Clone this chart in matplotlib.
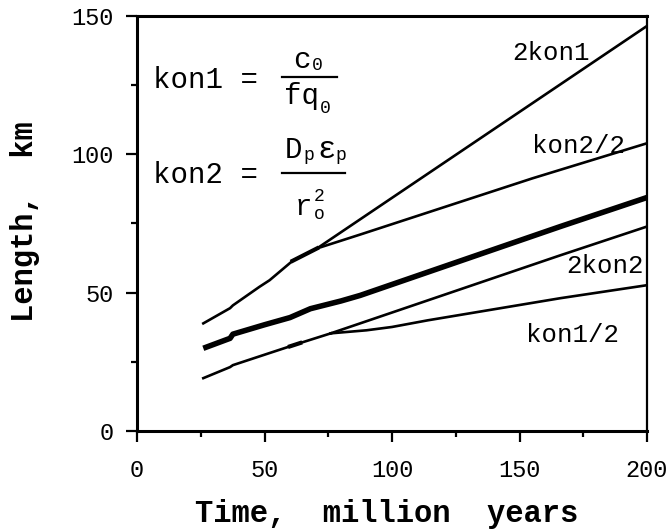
import numpy as np
import matplotlib
matplotlib.use("Agg")
from matplotlib import pyplot as plt
from matplotlib.lines import Line2D

# curve data (time in Myr, length in km)
base_t = [26, 36.5, 37.6, 50, 60, 68, 80, 87.5, 166, 200]
base_len = [29.9, 33.5, 35.0, 38.4, 41.0, 44.2, 47.0, 49.0, 73.9, 84.4]

upper_t = [26, 36.5, 37.6, 48, 52, 61, 70.6]
upper_len = [38.9, 44.4, 45.4, 52.1, 54.5, 61.5, 66.0]
kon1x2_t = [70.6, 200]
kon1x2_len = [66.0, 146.4]
kon2h_t = [70.6, 87.5, 155, 200]
kon2h_len = [66.0, 71.0, 91.3, 104.0]

lower_t = [26, 36.5, 37.6, 52.4, 60, 64, 76]
lower_len = [19.1, 23.1, 23.8, 28.3, 30.6, 31.8, 35.3]
kon2x2_t = [76, 87.5, 166, 200]
kon2x2_len = [35.3, 38.9, 63.5, 73.9]
kon1h_t = [76, 90, 100, 114, 166, 200]
kon1h_len = [35.3, 36.4, 37.6, 40.0, 48.0, 52.7]

xticks = [0, 50, 100, 150, 200]
yticks = [0, 50, 100, 150]

mono = "Liberation Mono"
W, H = 670, 530

fig = plt.figure(figsize=(6.7, 5.3), dpi=100)
ax = fig.add_axes([137 / W, 1 - 431 / H, 510 / W, 415 / H])


def ftext(px, py, s, size, **kw):
    # place text by image pixel (baseline)
    fig.text(px / W, 1 - py / H, s, fontsize=size, family=mono,
             va=kw.pop("va", "baseline"), ha=kw.pop("ha", "left"), **kw)


def fbar(px0, px1, py):
    fig.add_artist(Line2D([px0 / W, px1 / W], [1 - py / H, 1 - py / H],
                          color="black", lw=1.6, transform=fig.transFigure))


thin = 1.9
ax.plot(base_t, base_len, color="black", lw=4.0, solid_capstyle="butt")
ax.plot(upper_t, upper_len, color="black", lw=thin)
ax.plot(kon1x2_t, kon1x2_len, color="black", lw=thin)
ax.plot(kon2h_t, kon2h_len, color="black", lw=thin)
ax.plot(lower_t, lower_len, color="black", lw=thin)
ax.plot(kon2x2_t, kon2x2_len, color="black", lw=thin)
ax.plot(kon1h_t, kon1h_len, color="black", lw=thin)
# small thick stubs near the branch points
ax.plot(upper_t[-2:], upper_len[-2:], color="black", lw=3.0)
ax.plot(lower_t[-3:-1], lower_len[-3:-1], color="black", lw=3.0)

ax.set_xlim(0, 200)
ax.set_ylim(0, 150)
ax.set_xticks(xticks)
ax.set_yticks(yticks)
ax.set_xticks([25, 75, 125, 175], minor=True)
ax.set_yticks([25, 75, 125], minor=True)
ax.tick_params(which="major", direction="out", length=8, width=1.6,
               labelsize=17, pad=9)
ax.tick_params(axis="x", which="major", pad=12)
ax.tick_params(which="minor", direction="out", length=4, width=1.6)
for lab in ax.get_xticklabels() + ax.get_yticklabels():
    lab.set_family(mono)
for side in ["left", "bottom", "top"]:
    ax.spines[side].set_linewidth(2.2)
ax.spines["right"].set_linewidth(1.6)

# axis titles
fig.text(387 / W, 1 - 522 / H, "Time,  million  years", fontsize=22,
         family=mono, weight="bold", ha="center", va="baseline")
fig.text(25 / W, 1 - 222 / H, "Length,  km", fontsize=22, family=mono,
         weight="bold", rotation=90, ha="center", va="center")

# curve labels
ftext(512, 60, "2kon1", 18.5)
ftext(532, 153, "kon2/2", 18.5)
ftext(566, 273, "2kon2", 18.5)
ftext(526, 342, "kon1/2", 18.5)

# formulas
ftext(153, 88, "kon1 =", 21)
ftext(293, 68, "c", 21)
ftext(312, 70, "0", 13)
fbar(282, 337, 77)
ftext(284, 104, "fq", 21)
ftext(320, 113, "0", 13)

ftext(153, 183, "kon2 =", 21)
ftext(285, 158, "D", 21)
ftext(303, 160, "p", 13)
ftext(317, 158, "\u03b5", 22)
ftext(335, 160, "p", 13)
fbar(282, 345, 173)
ftext(295, 215, "r", 21)
ftext(314, 201, "2", 13)
ftext(314, 219, "o", 13)

fig.savefig("out.png", dpi=100)
